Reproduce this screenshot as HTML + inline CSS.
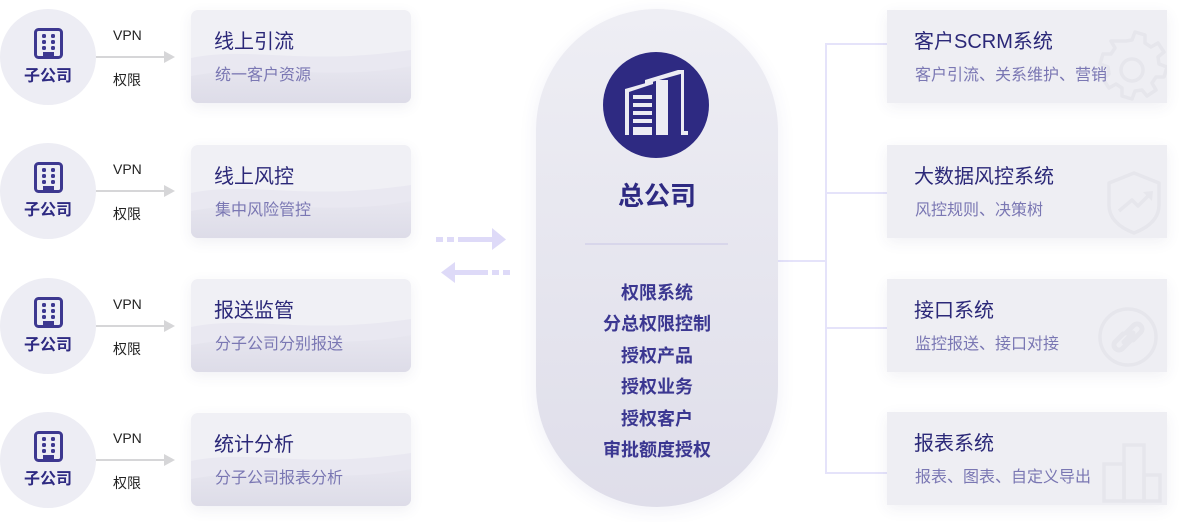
<!DOCTYPE html>
<html><head><meta charset="utf-8">
<style>
*{margin:0;padding:0;box-sizing:border-box}
body{width:1181px;height:522px;background:#fff;position:relative;overflow:hidden;font-family:"Liberation Sans","Noto Sans CJK SC",sans-serif}
.abs{position:absolute}
.circ{position:absolute;left:0;width:96px;height:96px;border-radius:50%;background:#ededf4}
.circ .lbl{position:absolute;left:0;width:96px;top:58px;text-align:center;font-size:16px;font-weight:bold;color:#2e2a82;line-height:20px}
.circ svg{position:absolute;left:34px;top:19px}
.vpn{position:absolute;left:113px;font-size:14px;color:#222;line-height:16px}
.lcard{position:absolute;left:191px;width:220px;height:93px;border-radius:7px;overflow:hidden;background:#f0f0f5;box-shadow:0 4px 14px rgba(60,60,110,0.08)}
.lcard svg{position:absolute;left:0;top:0}
.t{position:absolute;font-size:20px;color:#2b2878;line-height:24px;white-space:nowrap}
.s{position:absolute;font-size:16px;color:#7a77b3;line-height:20px;white-space:nowrap}
.rcard{position:absolute;left:887px;width:280px;height:93px;background:#eeeef3;box-shadow:0 4px 14px rgba(60,60,110,0.07)}
.rcard svg{position:absolute;left:0;top:0}
.list{position:absolute;left:536px;width:242px;text-align:center;font-size:18px;font-weight:bold;color:#3b3791;line-height:31.4px;top:278px}
</style></head><body>

<!-- left circles & arrows -->
<div class="circ" style="top:9px">
 <svg width="30" height="31" viewBox="0 0 30 31"><rect x="1.5" y="1.5" width="26" height="28" rx="3" fill="none" stroke="#3d3890" stroke-width="3"/><g fill="#3d3890"><rect x="8" y="6" width="4" height="4" rx="1.5"/><rect x="17" y="6" width="4" height="4" rx="1.5"/><rect x="8" y="12" width="4" height="4" rx="1.5"/><rect x="17" y="12" width="4" height="4" rx="1.5"/><rect x="8" y="18" width="4" height="4" rx="1.5"/><rect x="17" y="18" width="4" height="4" rx="1.5"/><rect x="9" y="24" width="11" height="6"/></g></svg>
 <div class="lbl">子公司</div>
</div>
<div class="circ" style="top:143px">
 <svg width="30" height="31" viewBox="0 0 30 31"><rect x="1.5" y="1.5" width="26" height="28" rx="3" fill="none" stroke="#3d3890" stroke-width="3"/><g fill="#3d3890"><rect x="8" y="6" width="4" height="4" rx="1.5"/><rect x="17" y="6" width="4" height="4" rx="1.5"/><rect x="8" y="12" width="4" height="4" rx="1.5"/><rect x="17" y="12" width="4" height="4" rx="1.5"/><rect x="8" y="18" width="4" height="4" rx="1.5"/><rect x="17" y="18" width="4" height="4" rx="1.5"/><rect x="9" y="24" width="11" height="6"/></g></svg>
 <div class="lbl">子公司</div>
</div>
<div class="circ" style="top:278px">
 <svg width="30" height="31" viewBox="0 0 30 31"><rect x="1.5" y="1.5" width="26" height="28" rx="3" fill="none" stroke="#3d3890" stroke-width="3"/><g fill="#3d3890"><rect x="8" y="6" width="4" height="4" rx="1.5"/><rect x="17" y="6" width="4" height="4" rx="1.5"/><rect x="8" y="12" width="4" height="4" rx="1.5"/><rect x="17" y="12" width="4" height="4" rx="1.5"/><rect x="8" y="18" width="4" height="4" rx="1.5"/><rect x="17" y="18" width="4" height="4" rx="1.5"/><rect x="9" y="24" width="11" height="6"/></g></svg>
 <div class="lbl">子公司</div>
</div>
<div class="circ" style="top:412px">
 <svg width="30" height="31" viewBox="0 0 30 31"><rect x="1.5" y="1.5" width="26" height="28" rx="3" fill="none" stroke="#3d3890" stroke-width="3"/><g fill="#3d3890"><rect x="8" y="6" width="4" height="4" rx="1.5"/><rect x="17" y="6" width="4" height="4" rx="1.5"/><rect x="8" y="12" width="4" height="4" rx="1.5"/><rect x="17" y="12" width="4" height="4" rx="1.5"/><rect x="8" y="18" width="4" height="4" rx="1.5"/><rect x="17" y="18" width="4" height="4" rx="1.5"/><rect x="9" y="24" width="11" height="6"/></g></svg>
 <div class="lbl">子公司</div>
</div>

<svg class="abs" style="left:0;top:0" width="1181" height="522">
 <g fill="#d6d6d8">
  <rect x="96" y="56" width="68" height="2"/><polygon points="164,51 175,57 164,63"/>
  <rect x="96" y="190" width="68" height="2"/><polygon points="164,185 175,191 164,197"/>
  <rect x="96" y="325" width="68" height="2"/><polygon points="164,320 175,326 164,332"/>
  <rect x="96" y="459" width="68" height="2"/><polygon points="164,454 175,460 164,466"/>
 </g>
 <!-- middle arrows -->
 <g fill="#dedaf8">
  <rect x="436" y="237" width="7" height="5"/><rect x="447" y="237" width="7" height="5"/><rect x="458" y="237" width="35" height="5"/><polygon points="492,228 506,239.5 492,250"/>
  <polygon points="455,262 441,272.5 455,283"/><rect x="454" y="270" width="34" height="5"/><rect x="492" y="270" width="7" height="5"/><rect x="503" y="270" width="7" height="5"/>
 </g>
 <!-- right connectors -->
 <g fill="#e5e3fa">
  <rect x="778" y="260" width="49" height="2"/>
  <rect x="825" y="43" width="2" height="431"/>
  <rect x="825" y="43" width="62" height="2"/>
  <rect x="825" y="192" width="62" height="2"/>
  <rect x="825" y="327" width="62" height="2"/>
  <rect x="825" y="472" width="62" height="2"/>
 </g>
</svg>

<div class="vpn" style="top:27px">VPN</div><div class="vpn" style="top:72px">权限</div>
<div class="vpn" style="top:161px">VPN</div><div class="vpn" style="top:206px">权限</div>
<div class="vpn" style="top:296px">VPN</div><div class="vpn" style="top:341px">权限</div>
<div class="vpn" style="top:430px">VPN</div><div class="vpn" style="top:475px">权限</div>

<!-- left cards -->
<div class="lcard" style="top:10px"><svg width="220" height="93"><defs><linearGradient id="g1" x1="0" y1="0" x2="0" y2="1"><stop offset="0" stop-color="#e7e6ef"/><stop offset="1" stop-color="#dddce8"/></linearGradient></defs><path d="M0,48 C60,36 110,56 220,40 L220,93 L0,93Z" fill="#e9e8f1"/><path d="M0,66 C70,52 140,72 220,56 L220,93 L0,93Z" fill="url(#g1)"/></svg><div class="t" style="left:23px;top:20px">线上引流</div><div class="s" style="left:24px;top:56px">统一客户资源</div></div>
<div class="lcard" style="top:145px"><svg width="220" height="93"><path d="M0,48 C60,36 110,56 220,40 L220,93 L0,93Z" fill="#e9e8f1"/><path d="M0,66 C70,52 140,72 220,56 L220,93 L0,93Z" fill="url(#g1)"/></svg><div class="t" style="left:23px;top:20px">线上风控</div><div class="s" style="left:24px;top:56px">集中风险管控</div></div>
<div class="lcard" style="top:279px"><svg width="220" height="93"><path d="M0,48 C60,36 110,56 220,40 L220,93 L0,93Z" fill="#e9e8f1"/><path d="M0,66 C70,52 140,72 220,56 L220,93 L0,93Z" fill="url(#g1)"/></svg><div class="t" style="left:23px;top:20px">报送监管</div><div class="s" style="left:24px;top:56px">分子公司分别报送</div></div>
<div class="lcard" style="top:413px"><svg width="220" height="93"><path d="M0,48 C60,36 110,56 220,40 L220,93 L0,93Z" fill="#e9e8f1"/><path d="M0,66 C70,52 140,72 220,56 L220,93 L0,93Z" fill="url(#g1)"/></svg><div class="t" style="left:23px;top:20px">统计分析</div><div class="s" style="left:24px;top:56px">分子公司报表分析</div></div>

<!-- center pill -->
<div class="abs" style="left:536px;top:9px;width:242px;height:498px;border-radius:121px;background:linear-gradient(#eeeef4,#dfdeea);box-shadow:0 4px 18px rgba(70,60,150,0.08)"></div>
<svg class="abs" style="left:0;top:0" width="1181" height="522">
 <circle cx="656" cy="105" r="53" fill="#2e2a82"/>
 <g fill="#ececf3">
  <polygon points="625,89 653,81 653,84 629,92 629,135 625,135"/>
  <rect x="633" y="95" width="19" height="4"/><rect x="633" y="103" width="19" height="4"/><rect x="633" y="111" width="19" height="4"/><rect x="633" y="119" width="19" height="4"/><rect x="633" y="127" width="19" height="8"/>
  <polygon points="645,80 678,70 684,70 684,73 645,84"/>
  <rect x="656" y="80" width="12" height="55"/>
  <rect x="681" y="70" width="3" height="63"/><rect x="681" y="131" width="7" height="4"/>
 </g>
 <rect x="585" y="243.5" width="143" height="1" fill="#c9c5e6"/>
</svg>
<div class="abs" style="left:536px;width:242px;top:180px;text-align:center;font-size:26px;font-weight:bold;color:#2e2a82;line-height:32px">总公司</div>
<div class="list">权限系统<br>分总权限控制<br>授权产品<br>授权业务<br>授权客户<br>审批额度授权</div>

<!-- right cards -->
<div class="rcard" style="top:10px"><svg width="280" height="93"><g fill="none" stroke="#e6e6ec" stroke-width="3.5"><path d="M239,31 l6,-1 l3,-8 l10,3 l0,8 l6,4 l7,-4 l6,9 l-6,5 l1,7 l8,3 l-3,10 l-8,0 l-4,6 l4,7 l-9,6 l-5,-6 l-7,1 l-3,8 l-10,-3 l0,-8 l-6,-4 l-7,4 l-6,-9 l6,-5 l-1,-7 l-8,-3 l3,-10 l8,0 l4,-6 l-4,-7 z" stroke-linejoin="round"/><circle cx="245" cy="60" r="11"/></g></svg><div class="t" style="left:27px;top:20px">客户SCRM系统</div><div class="s" style="left:28px;top:56px">客户引流、关系维护、营销</div></div>
<div class="rcard" style="top:145px"><svg width="280" height="93"><g fill="none" stroke="#e6e6ec" stroke-width="3.5" stroke-linejoin="round"><path d="M247,28 L272,38 L272,60 C272,75 260,83 247,88 C234,83 222,75 222,60 L222,38 Z"/><path d="M232,66 L245,55 L251,61 L262,50"/></g><polygon points="256,47 266,46 265,56" fill="#e6e6ec"/></svg><div class="t" style="left:27px;top:20px">大数据风控系统</div><div class="s" style="left:28px;top:56px">风控规则、决策树</div></div>
<div class="rcard" style="top:279px"><svg width="280" height="93"><g fill="none" stroke="#e6e6ec" stroke-width="3.5"><circle cx="241" cy="58" r="28"/><g stroke-width="5" stroke-linecap="round"><path d="M236,55 l-8,8 a5,5 0 0 0 7,7 l8,-8"/><path d="M246,61 l8,-8 a5,5 0 0 0 -7,-7 l-8,8"/><path d="M237,63 l9,-9"/></g></g></svg><div class="t" style="left:27px;top:20px">接口系统</div><div class="s" style="left:28px;top:56px">监控报送、接口对接</div></div>
<div class="rcard" style="top:412px"><svg width="280" height="94"><g fill="none" stroke="#e6e6ec" stroke-width="3.5"><rect x="217" y="52" width="20" height="37"/><rect x="237" y="33" width="20" height="56"/><rect x="257" y="63" width="16" height="26"/></g></svg><div class="t" style="left:27px;top:20px">报表系统</div><div class="s" style="left:28px;top:56px">报表、图表、自定义导出</div></div>

</body></html>
